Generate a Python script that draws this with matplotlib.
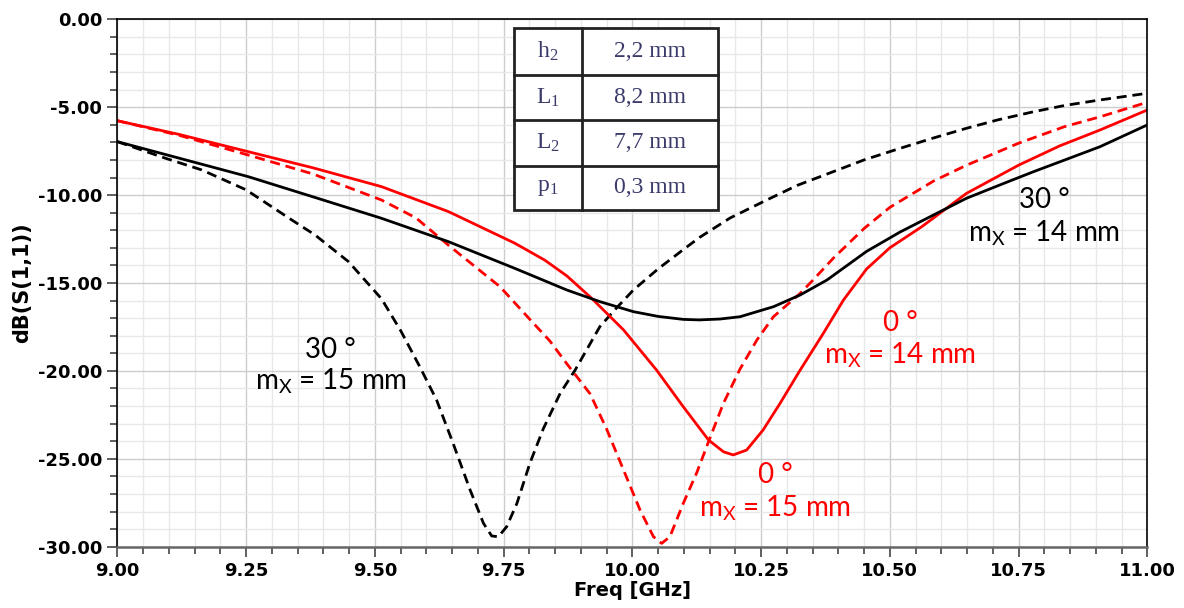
import matplotlib

matplotlib.use("Agg")
import matplotlib.pyplot as plt
from matplotlib.patches import Rectangle
from matplotlib.ticker import MultipleLocator, FormatStrFormatter

plt.rcParams["axes.unicode_minus"] = False

# 30 deg, mx = 15 mm (black dashed)
f_b15 = [9.00, 9.093, 9.164, 9.25, 9.339, 9.384, 9.449, 9.513, 9.55, 9.588, 9.620, 9.652,
         9.685, 9.711, 9.727, 9.740, 9.756, 9.776, 9.801, 9.827, 9.860, 9.889, 9.937, 9.97,
         10.002, 10.05, 10.099, 10.131, 10.19, 10.261, 10.32, 10.39, 10.45, 10.52, 10.585,
         10.649, 10.71, 10.779, 10.84, 10.908, 11.00]
s_b15 = [-6.96, -7.9, -8.57, -9.7, -11.42, -12.27, -13.79, -15.9, -17.7, -19.8, -21.66, -24.12,
         -26.77, -28.67, -29.39, -29.43, -28.86, -27.53, -25.26, -23.3, -21.27, -19.95, -17.48, -16.4,
         -15.4, -14.2, -13.1, -12.4, -11.3, -10.28, -9.45, -8.67, -8.0, -7.34, -6.75,
         -6.2, -5.72, -5.26, -4.9, -4.59, -4.21]

# 0 deg, mx = 15 mm (red dashed)
f_r15 = [9.00, 9.12, 9.254, 9.38, 9.513, 9.58, 9.643, 9.743, 9.808, 9.84, 9.873, 9.918, 9.950,
         9.983, 10.015, 10.041, 10.057, 10.073, 10.099, 10.125, 10.151, 10.177, 10.209, 10.242,
         10.274, 10.326, 10.351, 10.39, 10.45, 10.50, 10.585, 10.649, 10.75, 10.84, 10.908,
         11.00]
s_r15 = [-5.77, -6.6, -7.72, -8.8, -10.28, -11.3, -12.85, -15.21, -17.29, -18.3, -19.6, -21.3, -23.3,
         -25.64, -27.91, -29.43, -29.81, -29.43, -27.53, -25.8, -23.8, -21.84, -19.9, -18.24,
         -16.92, -15.59, -14.83, -13.6, -11.9, -10.7, -9.2, -8.3, -7.05, -6.1, -5.55,
         -4.72]

# 0 deg, mx = 14 mm (red solid)
f_r14 = [9.00, 9.12, 9.254, 9.38, 9.513, 9.643, 9.772, 9.83, 9.873, 9.921, 9.983, 10.047,
         10.099, 10.148, 10.177, 10.196, 10.222, 10.254, 10.287, 10.326, 10.371, 10.410, 10.455,
         10.50, 10.562, 10.649, 10.75, 10.83, 10.908, 11.00]
s_r14 = [-5.77, -6.55, -7.53, -8.45, -9.52, -10.94, -12.74, -13.7, -14.6, -15.87, -17.67, -19.95,
         -22.04, -23.93, -24.6, -24.78, -24.5, -23.36, -21.84, -19.95, -17.86, -15.97, -14.2,
         -13.0, -11.8, -9.9, -8.3, -7.2, -6.3, -5.16]

# 30 deg, mx = 14 mm (black solid)
f_b14 = [9.00, 9.12, 9.254, 9.38, 9.513, 9.643, 9.772, 9.873, 9.937, 10.002, 10.05, 10.099,
         10.13, 10.17, 10.209, 10.274, 10.326, 10.378, 10.455, 10.52, 10.585, 10.649, 10.72,
         10.779, 10.84, 10.908, 11.00]
s_b14 = [-6.96, -7.9, -8.95, -10.1, -11.32, -12.65, -14.17, -15.4, -16.06, -16.63, -16.9, -17.07,
         -17.1, -17.05, -16.92, -16.35, -15.68, -14.83, -13.2, -12.1, -11.13, -10.18, -9.35,
         -8.67, -8.0, -7.25, -6.01]

table_params = [r"$\mathregular{h_2}$", r"$\mathregular{L_1}$", r"$\mathregular{L_2}$", r"$\mathregular{p_1}$"]
table_values = ["2,2 mm", "8,2 mm", "7,7 mm", "0,3 mm"]

fig = plt.figure(figsize=(11.84, 6.08), dpi=100)
ax = fig.add_axes([0.0991, 0.1008, 0.8699, 0.8675])

dash = (0, (3.6, 2.1))
ax.plot(f_b15, s_b15, color="black", lw=2.0, ls=dash)
ax.plot(f_r15, s_r15, color="red", lw=2.0, ls=dash)
ax.plot(f_r14, s_r14, color="red", lw=2.0)
ax.plot(f_b14, s_b14, color="black", lw=2.0)

ax.set_xlim(9.0, 11.0)
ax.set_ylim(-30, 0)
ax.xaxis.set_major_locator(MultipleLocator(0.25))
ax.xaxis.set_minor_locator(MultipleLocator(0.05))
ax.yaxis.set_major_locator(MultipleLocator(5))
ax.yaxis.set_minor_locator(MultipleLocator(1))
ax.xaxis.set_major_formatter(FormatStrFormatter("%.2f"))
ax.yaxis.set_major_formatter(FormatStrFormatter("%.2f"))
ax.grid(which="major", color="#cccccc", lw=1.0)
ax.grid(which="minor", color="#e8e8e8", lw=1.0)
ax.set_axisbelow(True)
ax.tick_params(which="major", direction="out", length=7, width=1.2, color="#444444",
               labelsize=13, pad=4)
ax.tick_params(which="minor", direction="out", length=5, width=1.2, color="#444444")
for lab in ax.get_xticklabels() + ax.get_yticklabels():
    lab.set_fontweight("bold")
    lab.set_family("DejaVu Sans")
for side in ["left", "top", "right"]:
    ax.spines[side].set_color("black")
    ax.spines[side].set_linewidth(1.2)
ax.spines["bottom"].set_color("#666666")
ax.spines["bottom"].set_linewidth(1.8)

ax.set_xlabel("Freq [GHz]", fontsize=14, fontweight="bold", family="DejaVu Sans", labelpad=1)
ax.set_ylabel("dB(S(1,1))", fontsize=15, fontweight="bold", family="DejaVu Sans", labelpad=4)

ann = dict(fontsize=20, family="Lato", ha="center", va="center")
ax.text(9.414, -18.8, "30 °", color="black", **ann)
ax.text(9.414, -20.6, r"m$\mathregular{_X}$ = 15 mm", color="black", **ann)
ax.text(10.52, -17.3, "0 °", color="red", **ann)
ax.text(10.52, -19.1, r"m$\mathregular{_X}$ = 14 mm", color="red", **ann)
ax.text(10.277, -25.9, "0 °", color="red", **ann)
ax.text(10.277, -27.8, r"m$\mathregular{_X}$ = 15 mm", color="red", **ann)
ax.text(10.80, -10.3, "30 °", color="black", **ann)
ax.text(10.80, -12.15, r"m$\mathregular{_X}$ = 14 mm", color="black", **ann)

# parameter table (axes coordinates)
tx0, tx1, txm = 0.385, 0.583, 0.4512
ty_edges = [0.9835, 0.8944, 0.809, 0.7224, 0.638]
tr = ax.transAxes
ax.add_patch(Rectangle((tx0, ty_edges[-1]), tx1 - tx0, ty_edges[0] - ty_edges[-1],
                       transform=tr, facecolor="white", edgecolor="#222222", lw=2.0, zorder=5))
for ty in ty_edges[1:-1]:
    ax.plot([tx0, tx1], [ty, ty], transform=tr, color="#222222", lw=2.0, zorder=6)
ax.plot([txm, txm], [ty_edges[0], ty_edges[-1]], transform=tr, color="#222222", lw=2.0, zorder=6)
for i, (p, v) in enumerate(zip(table_params, table_values)):
    yc = (ty_edges[i] + ty_edges[i + 1]) / 2
    ax.text((tx0 + txm) / 2, yc, p, transform=tr, ha="center", va="center", fontsize=17,
            family="Liberation Serif", color="#3b3b6b", zorder=7)
    ax.text((txm + tx1) / 2, yc, v, transform=tr, ha="center", va="center", fontsize=17,
            family="Liberation Serif", color="#3b3b6b", zorder=7)

fig.savefig("out.png", dpi=100)
